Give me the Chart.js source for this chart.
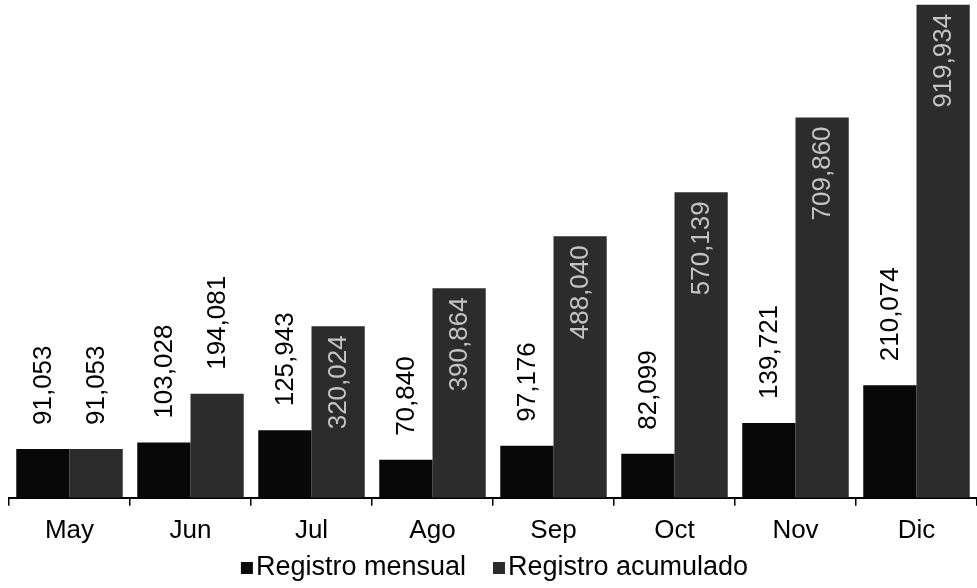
<!DOCTYPE html>
<html>
<head>
<meta charset="utf-8">
<script src="https://cdn.jsdelivr.net/npm/chart.js@4.4.1/dist/chart.umd.min.js"></script>
<style>
  html, body { margin: 0; padding: 0; background: #fff; }
  #wrap { width: 977px; height: 588px; }
</style>
</head>
<body>
<div id="wrap"><canvas id="chart"></canvas></div>
<script>
const months = ["May", "Jun", "Jul", "Ago", "Sep", "Oct", "Nov", "Dic"];
const mensual = [91053, 103028, 125943, 70840, 97176, 82099, 139721, 210074];
const acumulado = [91053, 194081, 320024, 390864, 488040, 570139, 709860, 919934];
const labelMensual = ["91,053", "103,028", "125,943", "70,840", "97,176", "82,099", "139,721", "210,074"];
const labelAcumulado = ["91,053", "194,081", "320,024", "390,864", "488,040", "570,139", "709,860", "919,934"];

const FONT = "'Liberation Sans', Arial, sans-serif";

// draw rotated value labels on the bars
const barLabels = {
  id: "barLabels",
  afterDatasetsDraw(chart) {
    const ctx = chart.ctx;
    ctx.save();
    ctx.font = "26px " + FONT;
    ctx.textBaseline = "middle";
    const sets = [labelMensual, labelAcumulado];
    chart.data.datasets.forEach((ds, i) => {
      const meta = chart.getDatasetMeta(i);
      meta.data.forEach((bar, j) => {
        const h = bar.base - bar.y;
        ctx.save();
        ctx.translate(bar.x + 1, bar.y);
        ctx.rotate(-Math.PI / 2);
        if (i === 1 && h > 150) {
          ctx.fillStyle = "#c4c4c4";
          ctx.textAlign = "right";
          ctx.fillText(sets[i][j], -9, 0);
        } else {
          ctx.fillStyle = "#000";
          ctx.textAlign = "left";
          ctx.fillText(sets[i][j], 24, 0);
        }
        ctx.restore();
      });
    });
    ctx.restore();
  }
};

// legend drawn by hand: small square, tight gap, wide spacing between items
const bottomLegend = {
  id: "bottomLegend",
  afterDraw(chart) {
    const ctx = chart.ctx;
    ctx.save();
    ctx.font = "27px " + FONT;
    ctx.textBaseline = "middle";
    const box = 12, gapText = 3, gapItem = 27;
    const items = chart.data.datasets.map(ds => ({
      text: ds.label,
      color: ds.backgroundColor,
      w: box + gapText + ctx.measureText(ds.label).width
    }));
    const total = items.reduce((s, it) => s + it.w, 0) + gapItem * (items.length - 1);
    let x = chart.width / 2 + 6 - total / 2;
    const y = 568;
    items.forEach(it => {
      ctx.fillStyle = it.color;
      ctx.fillRect(x, y - box / 2, box, box);
      ctx.fillStyle = "#000";
      ctx.textAlign = "left";
      ctx.fillText(it.text, x + box + gapText, y);
      x += it.w + gapItem;
    });
    ctx.restore();
  }
};

new Chart(document.getElementById("chart"), {
  type: "bar",
  data: {
    labels: months,
    datasets: [
      {
        label: "Registro mensual",
        data: mensual,
        backgroundColor: "#080808",
        borderWidth: 0
      },
      {
        label: "Registro acumulado",
        data: acumulado,
        backgroundColor: "#2c2c2c",
        borderWidth: 0
      }
    ]
  },
  options: {
    responsive: true,
    maintainAspectRatio: false,
    animation: false,
    layout: { padding: { left: 9, right: 0, top: 0, bottom: 33 } },
    datasets: {
      bar: { categoryPercentage: 0.88, barPercentage: 1.0 }
    },
    scales: {
      x: {
        offset: true,
        grid: {
          display: true,
          drawOnChartArea: false,
          drawTicks: true,
          tickLength: 8,
          color: "#000",
          lineWidth: 1.5
        },
        border: { display: true, color: "#000", width: 2 },
        ticks: {
          color: "#000",
          padding: 9,
          font: { family: FONT, size: 26 }
        }
      },
      y: {
        display: false,
        min: 0,
        max: 929000
      }
    },
    plugins: {
      legend: { display: false },
      tooltip: { enabled: false }
    }
  },
  plugins: [barLabels, bottomLegend]
});
</script>
</body>
</html>
